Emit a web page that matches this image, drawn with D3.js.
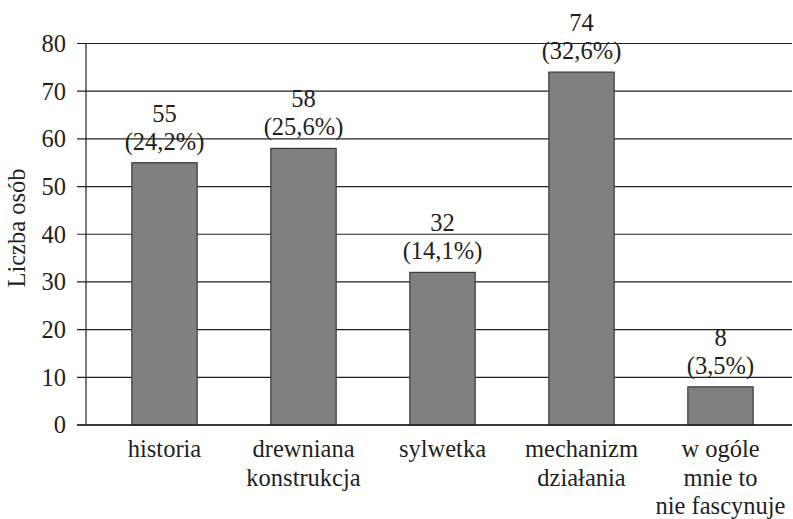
<!DOCTYPE html>
<html><head><meta charset="utf-8">
<script src="https://cdn.jsdelivr.net/npm/d3@7"></script>
<style>body{margin:0;background:#fff}svg{display:block}
svg text{font-family:"Liberation Serif","Times New Roman",serif;}</style>
</head><body>
<svg id="c" width="793" height="519"></svg>
<script>
const categories = [["historia"],["drewniana","konstrukcja"],["sylwetka"],["mechanizm","działania"],["w ogóle","mnie to","nie fascynuje"]];
const values = [55, 58, 32, 74, 8];
const percents = ["24,2%","25,6%","14,1%","32,6%","3,5%"];
const yTicks = [0,10,20,30,40,50,60,70,80];
const yLabel = "Liczba osób";

const svg = d3.select("#c");
const fs = 24.5;
const ink = "#231f20";
const x = d3.scaleBand().domain(d3.range(values.length)).range([95, 790]).paddingInner(0.53).paddingOuter(0.265);
const y = d3.scaleLinear().domain([0, 80]).range([425, 43.5]);
const left = 86, right = 792;

svg.append("g").selectAll("line").data(yTicks).join("line")
  .attr("x1", 77).attr("x2", right)
  .attr("y1", d => y(d)).attr("y2", d => y(d))
  .attr("stroke", ink).attr("stroke-width", 1.2);
svg.append("line").attr("x1", left).attr("x2", left).attr("y1", y(80)).attr("y2", y(0))
  .attr("stroke", ink).attr("stroke-width", 1.2);
svg.append("g").selectAll("text").data(yTicks).join("text")
  .attr("x", 66).attr("y", d => y(d)).attr("dy", "0.34em")
  .attr("text-anchor", "end").attr("font-size", fs).attr("fill", ink)
  .text(d => d);
svg.append("g").selectAll("rect").data(values).join("rect")
  .attr("x", (d,i) => x(i)).attr("width", x.bandwidth())
  .attr("y", d => y(d)).attr("height", d => y(0) - y(d))
  .attr("fill", "#808083").attr("stroke", "#3a3a3c").attr("stroke-width", 1.2);
svg.append("line").attr("x1", 77).attr("x2", right).attr("y1", y(0)).attr("y2", y(0))
  .attr("stroke", ink).attr("stroke-width", 1.4);
const vl = svg.append("g").selectAll("text").data(values).join("text")
  .attr("text-anchor", "middle").attr("font-size", fs).attr("fill", ink);
vl.append("tspan").attr("x", (d,i) => x(i) + x.bandwidth()/2).attr("y", d => y(d) - 41).text(d => d);
vl.append("tspan").attr("x", (d,i) => x(i) + x.bandwidth()/2).attr("y", d => y(d) - 13).text((d,i) => "(" + percents[i] + ")");
const cl = svg.append("g").selectAll("text").data(categories).join("text")
  .attr("text-anchor", "middle").attr("font-size", fs).attr("fill", ink);
cl.selectAll("tspan").data((d,i) => d.map(s => ({s, i}))).join("tspan")
  .attr("x", d => x(d.i) + x.bandwidth()/2)
  .attr("y", (d,j) => 457 + j*28.5).text(d => d.s);
svg.append("text").attr("transform", `translate(25,228) rotate(-90)`)
  .attr("text-anchor", "middle").attr("font-size", fs).attr("fill", ink)
  .text(yLabel);
</script>
</body></html>
